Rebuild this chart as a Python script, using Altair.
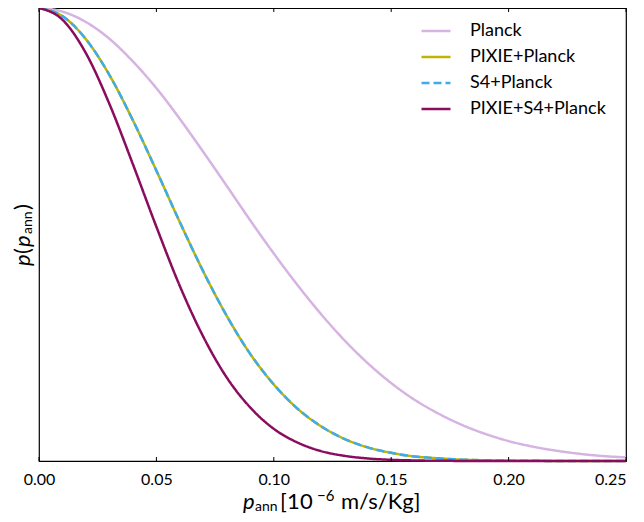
import altair as alt
import pandas as pd

# ---- data ----
p_ann = [0.00, 0.01, 0.02, 0.03, 0.04, 0.05, 0.06, 0.07, 0.08, 0.09, 0.10, 0.11, 0.12,
         0.13, 0.14, 0.15, 0.16, 0.17, 0.18, 0.19, 0.20, 0.21, 0.22, 0.23, 0.24, 0.25]

planck = [1.000, 0.992, 0.969, 0.932, 0.882, 0.823, 0.755, 0.682, 0.607, 0.531, 0.458,
          0.389, 0.325, 0.267, 0.216, 0.172, 0.135, 0.105, 0.080, 0.060, 0.044, 0.032,
          0.023, 0.016, 0.011, 0.008]
pixie_planck = [1.000, 0.982, 0.931, 0.852, 0.752, 0.641, 0.527, 0.418, 0.320, 0.236,
                0.169, 0.116, 0.077, 0.049, 0.030, 0.018, 0.010, 0.006, 0.003, 0.0016,
                0.0008, 0.0004, 0.0002, 0.0001, 0.0, 0.0]
s4_planck = [1.000, 0.982, 0.931, 0.852, 0.752, 0.641, 0.527, 0.418, 0.320, 0.236,
             0.169, 0.116, 0.077, 0.049, 0.030, 0.018, 0.010, 0.006, 0.003, 0.0016,
             0.0008, 0.0004, 0.0002, 0.0001, 0.0, 0.0]
pixie_s4_planck = [1.000, 0.974, 0.900, 0.788, 0.655, 0.517, 0.386, 0.274, 0.184, 0.118,
                   0.071, 0.041, 0.022, 0.0115, 0.0056, 0.0026, 0.0012, 0.0005, 0.0002,
                   0.0001, 0.0, 0.0, 0.0, 0.0, 0.0, 0.0]

series_names = ["Planck", "PIXIE+Planck", "S4+Planck", "PIXIE+S4+Planck"]
series_values = [planck, pixie_planck, s4_planck, pixie_s4_planck]
series_colors = ["#d6b3e1", "#bfb400", "#3cacec", "#8a0c5e"]
series_dash = [[1, 0], [1, 0], [8, 4], [1, 0]]

x_ticks = [0.00, 0.05, 0.10, 0.15, 0.20, 0.25]

# ---- layout constants ----
W, H = 587, 453
FONT = "Lato"

rows = []
for name, vals in zip(series_names, series_values):
    for p, v in zip(p_ann, vals):
        rows.append({"series": name, "p": p, "v": v})
df = pd.DataFrame(rows)

legend_opts = dict(title=None, orient="none", legendX=381, legendY=7,
                   symbolType="stroke", symbolStrokeWidth=2.5, symbolSize=841,
                   labelFontSize=18, labelFont=FONT, labelColor="black",
                   labelOffset=18, rowPadding=1)

xscale = alt.Scale(domain=[0, 0.25], nice=False, zero=False)
yscale = alt.Scale(domain=[0, 1.0], nice=False)
color = alt.Color("series:N",
                  scale=alt.Scale(domain=series_names, range=series_colors),
                  legend=alt.Legend(**legend_opts))
dash = alt.StrokeDash("series:N",
                      scale=alt.Scale(domain=series_names, range=series_dash),
                      legend=alt.Legend(**legend_opts))

label_align = {"condition": {"test": "datum.value >= 0.249", "value": "right"},
               "value": "center"}

base = alt.Chart(df)
layers = []
for name in series_names:
    layers.append(
        base.transform_filter(alt.datum.series == name)
        .mark_line(strokeWidth=2.5, interpolate="monotone")
        .encode(
            x=alt.X("p:Q", scale=xscale,
                    axis=alt.Axis(values=x_ticks, format=".2f", title=None, ticks=False,
                                  domain=False, grid=False, labelFontSize=16, labelFont=FONT,
                                  labelColor="black", labelPadding=10, labelFlush=False,
                                  labelAlign=label_align)),
            y=alt.Y("v:Q", scale=yscale,
                    axis=alt.Axis(title=None, labels=False, ticks=False, domain=False,
                                  grid=False)),
            color=color,
            strokeDash=dash,
        )
    )

tick_df = pd.DataFrame({"t": x_ticks})
bottom_ticks = alt.Chart(tick_df).mark_rule(color="black", strokeWidth=1).encode(
    x=alt.X("t:Q", scale=xscale), y=alt.value(H), y2=alt.value(H - 4))
top_ticks = alt.Chart(tick_df).mark_rule(color="black", strokeWidth=1).encode(
    x=alt.X("t:Q", scale=xscale), y=alt.value(0), y2=alt.value(4))


def label(txt, x, y, size, italic=False, angle=0):
    return alt.Chart(pd.DataFrame({"t": [txt]})).mark_text(
        text=txt, font=FONT, fontSize=size, fontStyle="italic" if italic else "normal",
        align="left", baseline="alphabetic", angle=angle, color="black"
    ).encode(x=alt.value(x), y=alt.value(y))


# x-axis title: p_ann [10^-6 m/s/Kg]
xt = [
    label("p", 204, 501, 22, italic=True),
    label("ann", 216, 503, 14),
    label("[", 241, 501, 22),
    label("1", 248, 501, 22),
    label("0", 261, 501, 22),
    label("\u22126", 278, 493, 15),
    label("m/s/Kg]", 302, 501, 22),
]
# y-axis title: p(p_ann), rotated
yt = [
    label("p", -9, 258, 22, italic=True, angle=270),
    label("(", -9, 246, 22, angle=270),
    label("p", -9, 239, 22, italic=True, angle=270),
    label("ann", -7, 226, 14, angle=270),
    label(")", -9, 202, 22, angle=270),
]

chart = alt.layer(*layers, bottom_ticks, top_ticks, *xt, *yt).properties(
    width=W, height=H,
    autosize=alt.AutoSizeParams(type="none"),
    padding={"left": 31, "top": 0, "right": 10, "bottom": 60},
).configure_view(stroke="black", strokeWidth=1.2)

chart.save("out.html", embed_options={"renderer": "svg", "actions": False})
